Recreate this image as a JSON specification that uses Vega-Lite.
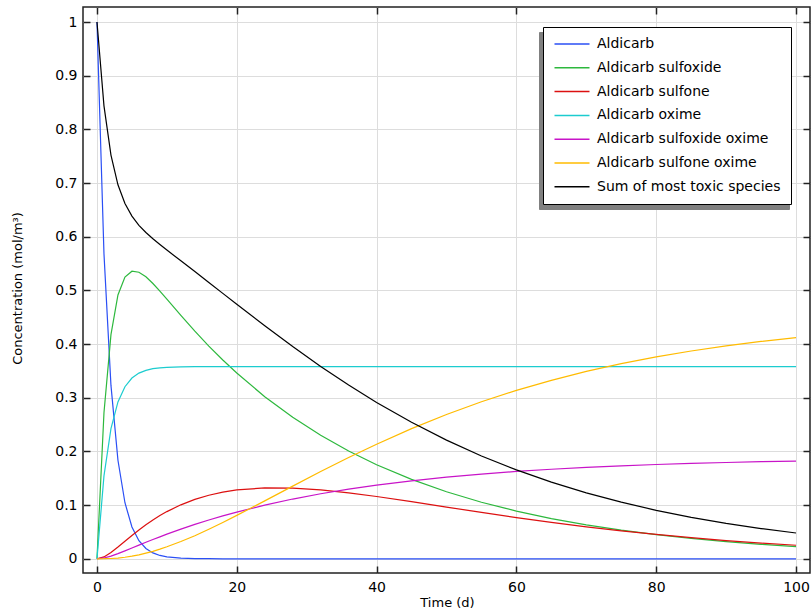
{
  "$schema": "https://vega.github.io/schema/vega-lite/v6.json",
  "width": 727,
  "height": 566,
  "autosize": "none",
  "padding": {"left": 83, "top": 7, "right": 2, "bottom": 40},
  "background": "white",
  "config": {
    "font": "DejaVu Sans",
    "view": {"stroke": "#222222", "strokeWidth": 1.5},
    "axis": {"labelFont": "DejaVu Sans", "titleFont": "DejaVu Sans", "labelColor": "#000", "titleColor": "#000", "labelFontSize": 14, "titleFontSize": 13, "titleFontWeight": "normal", "domain": false, "tickColor": "#222222", "tickWidth": 1.5, "gridColor": "#dddddd", "gridWidth": 1},
    "legend": {"labelFont": "DejaVu Sans", "labelFontSize": 14, "labelColor": "#000", "labelLimit": 0}
  },
  "data": {"values": [
    {"t": 0, "Aldicarb": 1, "Aldicarb sulfoxide": 0, "Aldicarb sulfone": 0, "Aldicarb oxime": 0, "Aldicarb sulfoxide oxime": 0, "Aldicarb sulfone oxime": 0, "Sum of most toxic species": 1},
    {"t": 1, "Aldicarb": 0.5684, "Aldicarb sulfoxide": 0.272, "Aldicarb sulfone": 0.0035, "Aldicarb oxime": 0.1545, "Aldicarb sulfoxide oxime": 0.0015, "Aldicarb sulfone oxime": 0.0001, "Sum of most toxic species": 0.8439},
    {"t": 2, "Aldicarb": 0.323, "Aldicarb sulfoxide": 0.4175, "Aldicarb sulfone": 0.0116, "Aldicarb oxime": 0.2424, "Aldicarb sulfoxide oxime": 0.005, "Aldicarb sulfone oxime": 0.0005, "Sum of most toxic species": 0.7521},
    {"t": 3, "Aldicarb": 0.1836, "Aldicarb sulfoxide": 0.4914, "Aldicarb sulfone": 0.0218, "Aldicarb oxime": 0.2923, "Aldicarb sulfoxide oxime": 0.0096, "Aldicarb sulfone oxime": 0.0013, "Sum of most toxic species": 0.6968},
    {"t": 4, "Aldicarb": 0.1044, "Aldicarb sulfoxide": 0.5249, "Aldicarb sulfone": 0.0326, "Aldicarb oxime": 0.3206, "Aldicarb sulfoxide oxime": 0.0147, "Aldicarb sulfone oxime": 0.0028, "Sum of most toxic species": 0.6619},
    {"t": 5, "Aldicarb": 0.0593, "Aldicarb sulfoxide": 0.5357, "Aldicarb sulfone": 0.0434, "Aldicarb oxime": 0.3368, "Aldicarb sulfoxide oxime": 0.02, "Aldicarb sulfone oxime": 0.0048, "Sum of most toxic species": 0.6384},
    {"t": 6, "Aldicarb": 0.0337, "Aldicarb sulfoxide": 0.5339, "Aldicarb sulfone": 0.0537, "Aldicarb oxime": 0.3459, "Aldicarb sulfoxide oxime": 0.0254, "Aldicarb sulfone oxime": 0.0074, "Sum of most toxic species": 0.6213},
    {"t": 7, "Aldicarb": 0.0192, "Aldicarb sulfoxide": 0.5253, "Aldicarb sulfone": 0.0634, "Aldicarb oxime": 0.3511, "Aldicarb sulfoxide oxime": 0.0307, "Aldicarb sulfone oxime": 0.0105, "Sum of most toxic species": 0.6078},
    {"t": 8, "Aldicarb": 0.0109, "Aldicarb sulfoxide": 0.5129, "Aldicarb sulfone": 0.0723, "Aldicarb oxime": 0.3541, "Aldicarb sulfoxide oxime": 0.0359, "Aldicarb sulfone oxime": 0.0139, "Sum of most toxic species": 0.5961},
    {"t": 9, "Aldicarb": 0.0062, "Aldicarb sulfoxide": 0.4987, "Aldicarb sulfone": 0.0805, "Aldicarb oxime": 0.3558, "Aldicarb sulfoxide oxime": 0.0409, "Aldicarb sulfone oxime": 0.0179, "Sum of most toxic species": 0.5854},
    {"t": 10, "Aldicarb": 0.0035, "Aldicarb sulfoxide": 0.4837, "Aldicarb sulfone": 0.0879, "Aldicarb oxime": 0.3567, "Aldicarb sulfoxide oxime": 0.0459, "Aldicarb sulfone oxime": 0.0224, "Sum of most toxic species": 0.5751},
    {"t": 12, "Aldicarb": 0.0011, "Aldicarb sulfoxide": 0.4534, "Aldicarb sulfone": 0.1005, "Aldicarb oxime": 0.3576, "Aldicarb sulfoxide oxime": 0.0552, "Aldicarb sulfone oxime": 0.0323, "Sum of most toxic species": 0.5551},
    {"t": 14, "Aldicarb": 0.0004, "Aldicarb sulfoxide": 0.4241, "Aldicarb sulfone": 0.1106, "Aldicarb oxime": 0.3579, "Aldicarb sulfoxide oxime": 0.064, "Aldicarb sulfone oxime": 0.043, "Sum of most toxic species": 0.5351},
    {"t": 16, "Aldicarb": 0.0001, "Aldicarb sulfoxide": 0.3963, "Aldicarb sulfone": 0.1183, "Aldicarb oxime": 0.358, "Aldicarb sulfoxide oxime": 0.0722, "Aldicarb sulfone oxime": 0.0551, "Sum of most toxic species": 0.5148},
    {"t": 18, "Aldicarb": 0, "Aldicarb sulfoxide": 0.3703, "Aldicarb sulfone": 0.1241, "Aldicarb oxime": 0.358, "Aldicarb sulfoxide oxime": 0.0799, "Aldicarb sulfone oxime": 0.0677, "Sum of most toxic species": 0.4945},
    {"t": 20, "Aldicarb": 0, "Aldicarb sulfoxide": 0.346, "Aldicarb sulfone": 0.1282, "Aldicarb oxime": 0.358, "Aldicarb sulfoxide oxime": 0.087, "Aldicarb sulfone oxime": 0.0808, "Sum of most toxic species": 0.4742},
    {"t": 24, "Aldicarb": 0, "Aldicarb sulfoxide": 0.302, "Aldicarb sulfone": 0.1321, "Aldicarb oxime": 0.358, "Aldicarb sulfoxide oxime": 0.1, "Aldicarb sulfone oxime": 0.1079, "Sum of most toxic species": 0.4341},
    {"t": 28, "Aldicarb": 0, "Aldicarb sulfoxide": 0.2636, "Aldicarb sulfone": 0.1317, "Aldicarb oxime": 0.358, "Aldicarb sulfoxide oxime": 0.1113, "Aldicarb sulfone oxime": 0.1354, "Sum of most toxic species": 0.3953},
    {"t": 32, "Aldicarb": 0, "Aldicarb sulfoxide": 0.2301, "Aldicarb sulfone": 0.1283, "Aldicarb oxime": 0.358, "Aldicarb sulfoxide oxime": 0.1211, "Aldicarb sulfone oxime": 0.1625, "Sum of most toxic species": 0.3584},
    {"t": 36, "Aldicarb": 0, "Aldicarb sulfoxide": 0.2008, "Aldicarb sulfone": 0.1228, "Aldicarb oxime": 0.358, "Aldicarb sulfoxide oxime": 0.1297, "Aldicarb sulfone oxime": 0.1887, "Sum of most toxic species": 0.3236},
    {"t": 40, "Aldicarb": 0, "Aldicarb sulfoxide": 0.1753, "Aldicarb sulfone": 0.116, "Aldicarb oxime": 0.358, "Aldicarb sulfoxide oxime": 0.1372, "Aldicarb sulfone oxime": 0.2135, "Sum of most toxic species": 0.2913},
    {"t": 45, "Aldicarb": 0, "Aldicarb sulfoxide": 0.1479, "Aldicarb sulfone": 0.1064, "Aldicarb oxime": 0.358, "Aldicarb sulfoxide oxime": 0.1453, "Aldicarb sulfone oxime": 0.2424, "Sum of most toxic species": 0.2543},
    {"t": 50, "Aldicarb": 0, "Aldicarb sulfoxide": 0.1248, "Aldicarb sulfone": 0.0963, "Aldicarb oxime": 0.358, "Aldicarb sulfoxide oxime": 0.1521, "Aldicarb sulfone oxime": 0.2688, "Sum of most toxic species": 0.2211},
    {"t": 55, "Aldicarb": 0, "Aldicarb sulfoxide": 0.1053, "Aldicarb sulfone": 0.0864, "Aldicarb oxime": 0.358, "Aldicarb sulfoxide oxime": 0.1578, "Aldicarb sulfone oxime": 0.2926, "Sum of most toxic species": 0.1916},
    {"t": 60, "Aldicarb": 0, "Aldicarb sulfoxide": 0.0888, "Aldicarb sulfone": 0.0768, "Aldicarb oxime": 0.358, "Aldicarb sulfoxide oxime": 0.1627, "Aldicarb sulfone oxime": 0.3137, "Sum of most toxic species": 0.1656},
    {"t": 65, "Aldicarb": 0, "Aldicarb sulfoxide": 0.0749, "Aldicarb sulfone": 0.0678, "Aldicarb oxime": 0.358, "Aldicarb sulfoxide oxime": 0.1668, "Aldicarb sulfone oxime": 0.3325, "Sum of most toxic species": 0.1427},
    {"t": 70, "Aldicarb": 0, "Aldicarb sulfoxide": 0.0632, "Aldicarb sulfone": 0.0595, "Aldicarb oxime": 0.358, "Aldicarb sulfoxide oxime": 0.1702, "Aldicarb sulfone oxime": 0.3491, "Sum of most toxic species": 0.1227},
    {"t": 75, "Aldicarb": 0, "Aldicarb sulfoxide": 0.0533, "Aldicarb sulfone": 0.052, "Aldicarb oxime": 0.358, "Aldicarb sulfoxide oxime": 0.1731, "Aldicarb sulfone oxime": 0.3635, "Sum of most toxic species": 0.1054},
    {"t": 80, "Aldicarb": 0, "Aldicarb sulfoxide": 0.045, "Aldicarb sulfone": 0.0453, "Aldicarb oxime": 0.358, "Aldicarb sulfoxide oxime": 0.1756, "Aldicarb sulfone oxime": 0.3762, "Sum of most toxic species": 0.0903},
    {"t": 85, "Aldicarb": 0, "Aldicarb sulfoxide": 0.038, "Aldicarb sulfone": 0.0393, "Aldicarb oxime": 0.358, "Aldicarb sulfoxide oxime": 0.1776, "Aldicarb sulfone oxime": 0.3871, "Sum of most toxic species": 0.0772},
    {"t": 90, "Aldicarb": 0, "Aldicarb sulfoxide": 0.032, "Aldicarb sulfone": 0.034, "Aldicarb oxime": 0.358, "Aldicarb sulfoxide oxime": 0.1794, "Aldicarb sulfone oxime": 0.3966, "Sum of most toxic species": 0.066},
    {"t": 95, "Aldicarb": 0, "Aldicarb sulfoxide": 0.027, "Aldicarb sulfone": 0.0293, "Aldicarb oxime": 0.358, "Aldicarb sulfoxide oxime": 0.1809, "Aldicarb sulfone oxime": 0.4049, "Sum of most toxic species": 0.0563},
    {"t": 100, "Aldicarb": 0, "Aldicarb sulfoxide": 0.0228, "Aldicarb sulfone": 0.0252, "Aldicarb oxime": 0.358, "Aldicarb sulfoxide oxime": 0.1821, "Aldicarb sulfone oxime": 0.4119, "Sum of most toxic species": 0.048}
  ]},
  "transform": [
    {"fold": ["Aldicarb", "Aldicarb sulfoxide", "Aldicarb sulfone", "Aldicarb oxime", "Aldicarb sulfoxide oxime", "Aldicarb sulfone oxime", "Sum of most toxic species"], "as": ["series", "c"]}
  ],
  "resolve": {"axis": {"x": "independent", "y": "independent"}, "legend": {"color": "independent"}},
  "layer": [
    {
      "mark": {"type": "line", "strokeWidth": 1.2, "opacity": 0, "clip": true},
      "encoding": {
        "x": {"field": "t", "type": "quantitative", "scale": {"domain": [-2, 102], "nice": false, "zero": false},
          "axis": {"orient": "top", "values": [0, 20, 40, 60, 80, 100], "labels": false, "grid": false, "title": null, "tickSize": -7}},
        "y": {"field": "c", "type": "quantitative", "scale": {"domain": [-0.0265, 1.028], "nice": false, "zero": false},
          "axis": {"orient": "right", "values": [0, 0.1, 0.2, 0.3, 0.4, 0.5, 0.6, 0.7, 0.8, 0.9, 1], "labels": false, "grid": false, "title": null, "tickSize": -7}},
        "color": {"field": "series", "type": "nominal",
          "scale": {"domain": ["Aldicarb", "Aldicarb sulfoxide", "Aldicarb sulfone", "Aldicarb oxime", "Aldicarb sulfoxide oxime", "Aldicarb sulfone oxime", "Sum of most toxic species"],
            "range": ["#2a4ff5", "#2db83d", "#dc1010", "#1ccccf", "#c814c8", "#ffbb00", "#000000"]},
          "legend": {"orient": "none", "legendX": 456, "legendY": 25, "title": null, "symbolType": "M-3.5,0L3.5,0", "symbolSize": 100, "symbolStrokeWidth": 1.5, "symbolOffset": 205, "labelOffset": 0, "padding": 10, "rowPadding": 9.8, "fillColor": "#808080", "strokeColor": "#808080", "labelOpacity": 0, "symbolOpacity": 0, "labelExpr": "''", "zindex": 0}}
      }
    },
    {
      "mark": {"type": "line", "strokeWidth": 1.2, "clip": true},
      "encoding": {
        "x": {"field": "t", "type": "quantitative",
          "axis": {"orient": "bottom", "values": [0, 20, 40, 60, 80, 100], "grid": true, "title": "Time (d)", "tickSize": -7, "labelPadding": 14, "titleX": 364, "titleY": 29, "titleBaseline": "middle", "titleAnchor": "middle"}},
        "y": {"field": "c", "type": "quantitative",
          "axis": {"orient": "left", "values": [0, 0.1, 0.2, 0.3, 0.4, 0.5, 0.6, 0.7, 0.8, 0.9, 1], "format": "~g", "grid": true, "title": "Concentration (mol/m³)", "tickSize": -7, "labelPadding": 13, "titleX": -66, "titleY": 281, "titleAngle": 270, "titleBaseline": "middle", "titleAlign": "center"}},
        "color": {"field": "series", "type": "nominal",
          "legend": {"orient": "none", "legendX": 460, "legendY": 20, "title": null, "symbolType": "M-3.5,0L3.5,0", "symbolSize": 100, "symbolStrokeWidth": 1.5, "symbolOffset": 12, "labelOffset": 18, "padding": 10, "rowPadding": 9.8, "fillColor": "white", "strokeColor": "#000000", "zindex": 1}}
      }
    }
  ]
}
